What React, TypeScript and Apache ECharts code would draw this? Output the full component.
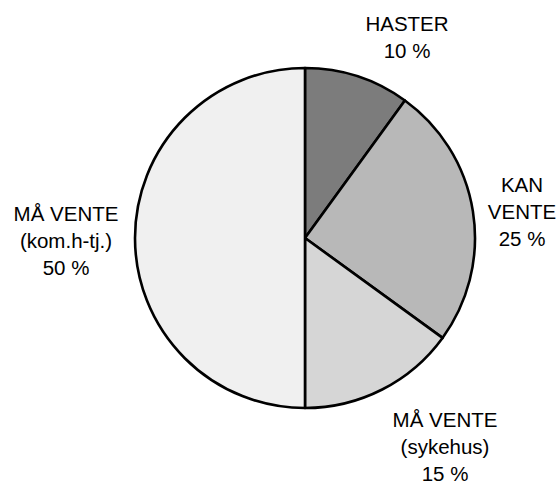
import React, { useEffect, useRef } from "react";
import * as echarts from "echarts";

const categories = ["HASTER", "KAN\nVENTE", "MÅ VENTE\n(sykehus)", "MÅ VENTE\n(kom.h-tj.)"];
const values = [10, 25, 15, 50];
const colors = ["#7c7c7c", "#b8b8b8", "#d6d6d6", "#f0f0f0"];

export default function App() {
  const ref = useRef<HTMLDivElement>(null);
  useEffect(() => {
    document.body.style.margin = "0";
    const chart = echarts.init(ref.current!, null, { renderer: "svg" });
    const labelPos: [number, number][] = [
      [407, 37],
      [522, 211],
      [445, 446],
      [66, 240],
    ];
    chart.setOption({
      animation: false,
      backgroundColor: "#ffffff",
      series: [
        {
          type: "pie",
          center: [305, 238],
          radius: 170,
          startAngle: 90,
          clockwise: true,
          data: categories.map((c, i) => ({
            name: c,
            value: values[i],
            itemStyle: { color: colors[i] },
          })),
          itemStyle: { borderColor: "#000", borderWidth: 2.6 },
          label: {
            show: true,
            position: "outside",
            formatter: "{b}\n{c} %",
            fontFamily: "Liberation Sans, Arial, sans-serif",
            fontSize: 20.5,
            lineHeight: 27,
            color: "#000",
            align: "center",
            overflow: "none",
            width: 200,
          },
          labelLine: { show: false },
          labelLayout: (params: any) => {
            const p = labelPos[params.dataIndex];
            return { x: p[0], y: p[1], align: "center", verticalAlign: "middle", width: 200 };
          },
          emphasis: { disabled: true },
        },
      ],
    });
    return () => chart.dispose();
  }, []);
  return <div ref={ref} style={{ width: 560, height: 483 }} />;
}
